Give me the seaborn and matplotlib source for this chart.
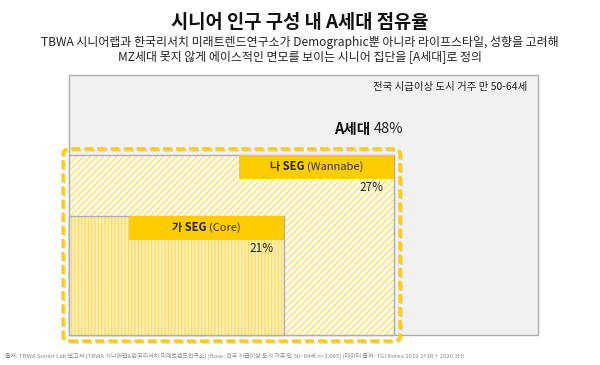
import numpy as np
import matplotlib
matplotlib.use("Agg")
import matplotlib.pyplot as plt
import matplotlib.transforms as mtransforms
from matplotlib.patches import Rectangle, FancyBboxPatch
import seaborn as sns

# ---------------- data ----------------
title = "시니어 인구 구성 내 A세대 점유율"
subtitle_lines = [
    "TBWA 시니어랩과 한국리서치 미래트렌드연구소가 Demographic뿐 아니라 라이프스타일, 성향을 고려해",
    "MZ세대 못지 않게 에이스적인 면모를 보이는 시니어 집단을 [A세대]로 정의",
]
base_label = "전국 시급이상 도시 거주 만 50-64세"
base_value = 100
group_label = "A세대"
segment_names = ["나 SEG", "가 SEG"]
segment_tags = ["(Wannabe)", "(Core)"]
segment_values = [27, 21]          # Wannabe, Core  (A세대 = 48)
footer = ("출처: TBWA Senior Lab 보고서 (TBWA 시니어랩&한국리서치 미래트렌드연구소) [Base: 전국 시급이상 도시 거주 만 50~64세 n=3,665] "
          "(데이터 출처: TGI Korea 2019 2+3R + 2020 1H)")

# ---------------- style ----------------
sns.set_theme(style="white")
plt.rcParams["font.family"] = ["Noto Sans CJK KR", "DejaVu Sans"]
plt.rcParams["hatch.linewidth"] = 0.8

YELLOW = "#FFCC00"
HATCH = "#FFDA55"
GRAY_EDGE = "#ADADAD"

W, H = 600, 365
fig = plt.figure(figsize=(W / 100, H / 100), dpi=100)
fig.patch.set_facecolor("white")

# axes covering the outer (100%) rectangle
L, T, R, B = 69, 75, 538, 335
ax = fig.add_axes([L / W, 1 - B / H, (R - L) / W, (B - T) / H])
ax.set_xlim(0, 1)
ax.set_ylim(0, 1)
ax.axis("off")
px = 1 / (R - L)
py = 1 / (B - T)

a_value = sum(segment_values)
side = lambda v: np.sqrt(v / base_value)
s_base = side(base_value)
s_a = side(a_value)
s_core = side(segment_values[1])

# outer rectangle
ax.add_patch(Rectangle((0, 0), s_base, s_base, fc="#F1F1F1", ec=GRAY_EDGE, lw=1.0, zorder=1, clip_on=False))

# A세대 rectangle (diagonal hatch)
ax.add_patch(Rectangle((0, 0), s_a, s_a, fc="#FFFCEE", ec=HATCH, hatch="/" * 5, lw=0, zorder=2, clip_on=False))
ax.add_patch(Rectangle((0, 0), s_a, s_a, fill=False, ec=GRAY_EDGE, lw=1.0, zorder=2.1, clip_on=False))

# Core rectangle (vertical hatch)
ax.add_patch(Rectangle((0, 0), s_core, s_core, fc="#FFF0B8", ec="#FFD850", hatch="|" * 5, lw=0, zorder=3, clip_on=False))
ax.add_patch(Rectangle((0, 0), s_core, s_core, fill=False, ec=GRAY_EDGE, lw=1.0, zorder=3.1, clip_on=False))

fig.canvas.draw()
renderer = fig.canvas.get_renderer()


def rich_text(x, y, parts, ha="center", va="center", transform=None, zorder=10):
    """parts: list of (text, weight, size, color). Draw consecutive pieces."""
    transform = transform or ax.transData
    widths = []
    for s, wgt, size, col in parts:
        t = fig.text(0, 0, s, fontsize=size, fontweight=wgt, color=col, va=va, ha="left")
        widths.append(t.get_window_extent(renderer).width)
        t.remove()
    total = sum(widths)
    if ha == "center":
        start = -total / 2
    elif ha == "right":
        start = -total
    else:
        start = 0
    off = start
    for (s, wgt, size, col), w in zip(parts, widths):
        tr = mtransforms.offset_copy(transform, fig=fig, x=off * 72 / fig.dpi, y=0, units="points")
        ax.text(x, y, s, fontsize=size, fontweight=wgt, color=col, ha="left", va=va,
                transform=tr, zorder=zorder, clip_on=False)
        off += w


# label boxes
box_w, box_h = 155 * px, 24 * py
for name, tag, val, s in zip(segment_names, segment_tags, segment_values, [s_a, s_core]):
    ax.add_patch(Rectangle((s - box_w, s - box_h), box_w, box_h, fc=YELLOW, ec="none", lw=0, zorder=5))
    rich_text(s - box_w / 2, s - box_h / 2,
              [(name + " ", "bold", 8, "#222222"), (tag, "normal", 8, "#333333")])
    ax.text(s - 10 * px, s - box_h - 9 * py, f"{val}%", fontsize=8.5, color="#222222",
            ha="right", va="center", zorder=6)

# A세대 label
rich_text(s_a + 9 * px, s_a + 26 * py,
          [(group_label + " ", "bold", 10.5, "#111111"), (f"{a_value}%", "normal", 10.5, "#222222")],
          ha="right")

# base label
ax.text(s_base - 11 * px, s_base - 12 * py, base_label, fontsize=7.5, color="#222222",
        ha="right", va="center", zorder=6)

# dashed rounded border around A세대 (display coords)
(x0, y0) = ax.transData.transform((0, 0))
(x1, y1) = ax.transData.transform((s_a, s_a))
pad = 6
for dx, dy, col, alpha, z in [(1.2, -1.2, "#999999", 0.35, 7), (0, 0, YELLOW, 1.0, 8)]:
    fb = FancyBboxPatch((x0 - pad + dx, y0 - pad + dy), (x1 - x0) + 2 * pad, (y1 - y0) + 2 * pad,
                        boxstyle="round,pad=0,rounding_size=6", fill=False, ec=col, alpha=alpha,
                        lw=2.3, linestyle=(0, (2.8, 1.3)), transform=None, zorder=z)
    fig.patches.append(fb)

# title & subtitle
fig.text(0.5, 1 - 22 / H, title, fontsize=13.5, fontweight="bold", ha="center", va="center", color="#111111")
for i, line in enumerate(subtitle_lines):
    fig.text(0.5, 1 - (42 + 15 * i) / H, line, fontsize=8.6, ha="center", va="center", color="#222222")

# footer
fig.text(5 / W, 1 - 356 / H, footer, fontsize=4.3, ha="left", va="center", color="#888888")

fig.savefig("out.png", dpi=100)
